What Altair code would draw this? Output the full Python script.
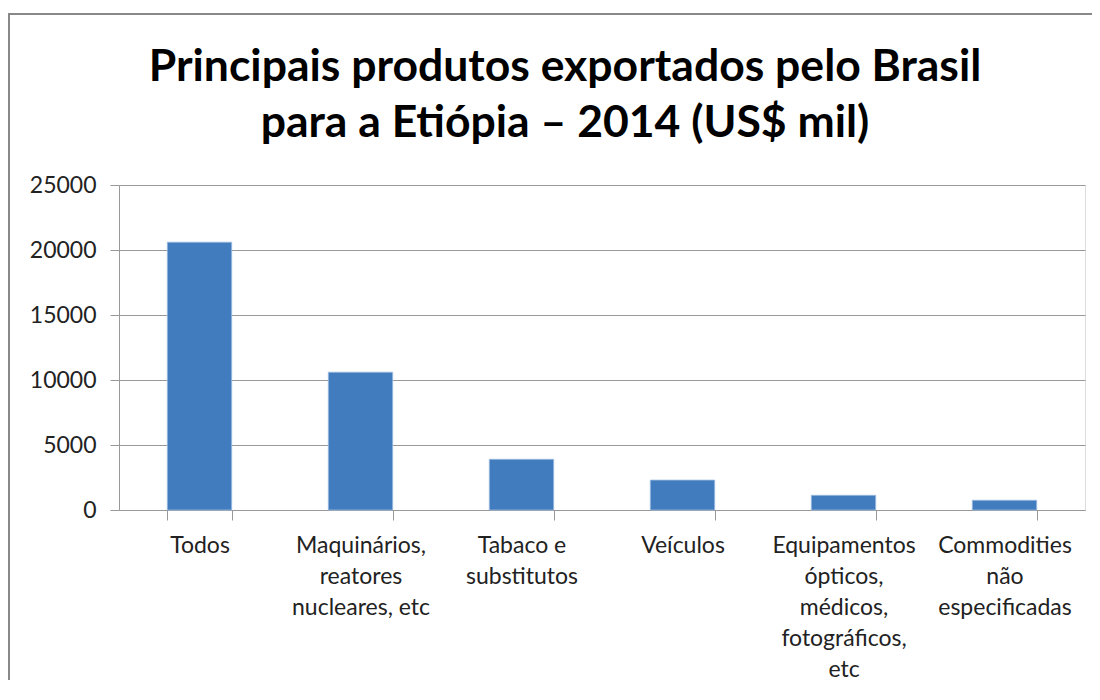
import altair as alt
import pandas as pd

categories = [
    "Todos",
    "Maquinários,\nreatores\nnucleares, etc",
    "Tabaco e\nsubstitutos",
    "Veículos",
    "Equipamentos\nópticos,\nmédicos,\nfotográficos,\netc",
    "Commodities\nnão\nespecificadas",
]
values = [20600, 10600, 3900, 2300, 1130, 750]
y_ticks = [0, 5000, 10000, 15000, 20000, 25000]
title_lines = ["Principais produtos exportados pelo Brasil", "para a Etiópia – 2014 (US$ mil)"]

df = pd.DataFrame({"cat": categories, "val": values})

FONT = "Lato"

bars = alt.Chart(df).mark_bar(color="#417CBE", stroke="#9DBBE0", strokeWidth=0.8).encode(
    x=alt.X(
        "cat:N",
        sort=categories,
        scale=alt.Scale(paddingInner=0.6, paddingOuter=0.3),
        axis=alt.Axis(
            title=None,
            labelAngle=0,
            labelExpr="split(datum.label, '\\n')",
            labelFont=FONT,
            labelFontSize=23,
            labelLineHeight=31,
            labelColor="#222222",
            labelPadding=14,
            labelLimit=300,
            tickBand="extent",
            tickSize=10,
            tickColor="#999999",
            domainColor="#999999",
            grid=False,
            labelBaseline="top",
        ),
    ),
    y=alt.Y(
        "val:Q",
        scale=alt.Scale(domain=[0, 25000], nice=False),
        axis=alt.Axis(
            title=None,
            values=y_ticks,
            format="d",
            labelFont=FONT,
            labelFontSize=23,
            labelColor="#222222",
            labelPadding=14,
            tickSize=9,
            tickColor="#999999",
            domainColor="#999999",
            gridColor="#999999",
            gridWidth=1,
        ),
    ),
)

one = pd.DataFrame({"a": [0]})

frame = alt.Chart(one).mark_rect(
    fill=None, stroke="#888888", strokeWidth=2
).encode(
    x=alt.value(-110),
    x2=alt.value(1200),
    y=alt.value(-171),
    y2=alt.value(900),
)

title = alt.Chart(one).mark_text(
    font=FONT,
    fontSize=44.5,
    fontWeight="bold",
    color="#000000",
    align="center",
    baseline="alphabetic",
    lineHeight=56,
).encode(
    x=alt.value(446),
    y=alt.value(-104),
    text=alt.value(title_lines),
)

chart = alt.layer(frame, title, bars).properties(
    width=966,
    height=325,
    autosize=alt.AutoSizeParams(type="none"),
    padding={"left": 111, "top": 177, "right": 7, "bottom": 170},
).configure_view(stroke=None).configure(background="white")

chart.save("out.html", embed_options={"renderer": "svg", "actions": False})
